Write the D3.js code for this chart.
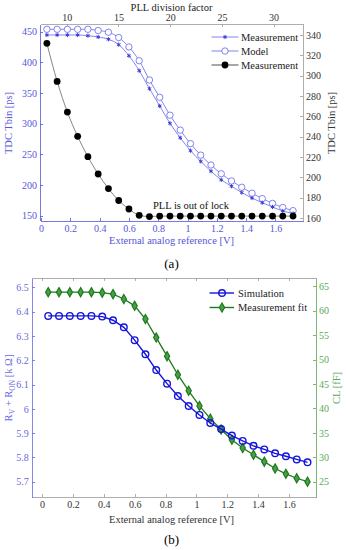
<!DOCTYPE html>
<html>
<head>
<meta charset="utf-8">
<script src="https://cdn.jsdelivr.net/npm/d3@7"></script>
<style>
  body { margin: 0; background: #fff; }
  svg text { font-family: "Liberation Serif", "Times New Roman", serif; }
  .axis path, .axis line { shape-rendering: crispEdges; }
</style>
</head>
<body>
<div id="chart"></div>
<script>
// shared x values: external analog reference [V]
var vref = [0.04, 0.11, 0.18, 0.25, 0.32, 0.39, 0.46, 0.53, 0.60, 0.67, 0.74, 0.81, 0.88,
            0.95, 1.02, 1.09, 1.16, 1.23, 1.30, 1.37, 1.44, 1.51, 1.58, 1.65, 1.72];

// (a) TDC Tbin vs reference
var tbinMeas = [340, 340, 340, 340, 339.3, 338, 335.8, 330.5, 319.6, 304.9, 287.2, 270.2, 253.1,
                238.9, 226.2, 215.7, 206, 197.5, 191.2, 185, 179.6, 175, 170.8, 166.9, 164.4];
var tbinModel = [345.6, 345.6, 345.6, 345.6, 345.6, 344.4, 342.7, 337.5, 328.2, 314.7, 295.7, 278.7, 261.1,
                 246.4, 233.1, 221.8, 212.1, 203.5, 196.4, 190.2, 184.3, 179, 174.3, 170.3, 167.2];
var tbinLock = [431, 369, 319, 279.5, 246.3, 218.1, 194.4, 174.9, 161.1, 150.8, 148.7, 149.5, 149.5,
                149.5, 149.5, 149.5, 149.5, 149.5, 149.5, 149.5, 149.5, 149.5, 149.5, 149.5, 149.5];
var aXTicks = [0, 0.2, 0.4, 0.6, 0.8, 1, 1.2, 1.4, 1.6];
var aLeftTicks = [150, 200, 250, 300, 350, 400, 450];
var aRightTicks = [160, 180, 200, 220, 240, 260, 280, 300, 320, 340];
var pllTicks = [10, 15, 20, 25, 30];

// (b) resistance and capacitance
var rSim = [6.383, 6.383, 6.383, 6.383, 6.383, 6.380, 6.365, 6.336, 6.283, 6.225, 6.160, 6.104, 6.053,
            6.012, 5.975, 5.942, 5.917, 5.890, 5.868, 5.848, 5.833, 5.817, 5.805, 5.792, 5.780];
var clFit = [63.8, 63.8, 63.8, 63.8, 63.8, 63.7, 63.4, 62.4, 61.0, 58.3, 54.5, 50.7, 46.9,
             43.6, 40.5, 37.9, 35.7, 33.6, 31.9, 30.5, 29.1, 27.7, 26.6, 25.7, 25.0];
var bLeftTicks = [5.7, 5.8, 5.9, 6, 6.1, 6.2, 6.3, 6.4, 6.5];
var bRightTicks = [25, 30, 35, 40, 45, 50, 55, 60, 65];

var W = 346, H = 550;
var svg = d3.select("#chart").append("svg").attr("width", W).attr("height", H);

var blueA = "#6464ec", axisBlueA = "#5656d8", grey = "#9a9a9a";

// ---------- panel (a) ----------
var ax = d3.scaleLinear().domain([-0.007, 1.788]).range([40, 303]);
var aTop = d3.scaleLinear().domain([7.42, 32.84]).range([40, 303]);
var ayL = d3.scaleLinear().domain([142, 462.5]).range([220.7, 24]);
var ayR = d3.scaleLinear().domain([157.3, 350.8]).range([220.7, 24]);

function styleAxis(g, lineCol, textCol) {
  g.attr("class", "axis").attr("font-family", null);
  g.select(".domain").attr("stroke", lineCol).attr("stroke-width", 0.8);
  g.selectAll(".tick line").attr("stroke", lineCol).attr("stroke-width", 0.8);
  g.selectAll(".tick text").attr("fill", textCol).attr("font-size", 10);
}

var ga = svg.append("g");
ga.append("g").attr("transform", "translate(0,220.7)")
  .call(d3.axisBottom(ax).tickValues(aXTicks).tickFormat(d3.format("")).tickSize(-3).tickSizeOuter(0).tickPadding(4))
  .call(styleAxis, axisBlueA, axisBlueA);
ga.append("g").attr("transform", "translate(0,24)")
  .call(d3.axisTop(aTop).tickValues(pllTicks).tickSize(-3).tickSizeOuter(0).tickPadding(3))
  .call(styleAxis, grey, "#333");
ga.append("g").attr("transform", "translate(40,0)")
  .call(d3.axisLeft(ayL).tickValues(aLeftTicks).tickSize(-3).tickSizeOuter(0).tickPadding(3))
  .call(styleAxis, axisBlueA, axisBlueA);
ga.append("g").attr("transform", "translate(303,0)")
  .call(d3.axisRight(ayR).tickValues(aRightTicks).tickSize(-3).tickSizeOuter(0).tickPadding(3))
  .call(styleAxis, grey, "#333");

ga.append("text").attr("x", 171.5).attr("y", 10.5).attr("text-anchor", "middle")
  .attr("font-size", 10.5).attr("fill", "#222").text("PLL division factor");
ga.append("text").attr("x", 171.5).attr("y", 244).attr("text-anchor", "middle")
  .attr("font-size", 10.5).attr("fill", axisBlueA).text("External analog reference [V]");
ga.append("text").attr("transform", "translate(12,123) rotate(-90)").attr("text-anchor", "middle")
  .attr("font-size", 10.5).attr("fill", axisBlueA).text("TDC Tbin [ps]");
ga.append("text").attr("transform", "translate(335,123) rotate(-90)").attr("text-anchor", "middle")
  .attr("font-size", 10.5).attr("fill", "#333").text("TDC Tbin [ps]");
ga.append("text").attr("x", 191).attr("y", 208.5).attr("text-anchor", "middle")
  .attr("font-size", 10.5).attr("fill", "#111").text("PLL is out of lock");
ga.append("text").attr("x", 171.5).attr("y", 268).attr("text-anchor", "middle")
  .attr("font-size", 13).attr("fill", "#000").text("(a)");

var lineLock = d3.line().x(function (d, i) { return ax(vref[i]); }).y(function (d) { return ayL(d); })
  .curve(d3.curveMonotoneX);
var lineR = d3.line().x(function (d, i) { return ax(vref[i]); }).y(function (d) { return ayR(d); })
  .curve(d3.curveMonotoneX);

ga.append("path").datum(tbinModel).attr("d", lineR).attr("fill", "none")
  .attr("stroke", blueA).attr("stroke-width", 0.8);
ga.append("path").datum(tbinMeas).attr("d", lineR).attr("fill", "none")
  .attr("stroke", blueA).attr("stroke-width", 0.8);
ga.append("path").datum(tbinLock).attr("d", lineLock).attr("fill", "none")
  .attr("stroke", "#666").attr("stroke-width", 0.8);

ga.selectAll("circle.model").data(tbinModel).enter().append("circle").attr("class", "model")
  .attr("cx", function (d, i) { return ax(vref[i]); }).attr("cy", function (d) { return ayR(d); })
  .attr("r", 3.2).attr("fill", "#fff").attr("stroke", blueA).attr("stroke-width", 0.8);
var star = d3.symbol().type(d3.symbolAsterisk).size(12);
ga.selectAll("path.meas").data(tbinMeas).enter().append("path").attr("class", "meas")
  .attr("transform", function (d, i) { return "translate(" + ax(vref[i]) + "," + ayR(d) + ")"; })
  .attr("d", star).attr("fill", "none").attr("stroke", "#3a3ad8").attr("stroke-width", 1);
ga.selectAll("circle.lock").data(tbinLock).enter().append("circle").attr("class", "lock")
  .attr("cx", function (d, i) { return ax(vref[i]); }).attr("cy", function (d) { return ayL(d); })
  .attr("r", 3.4).attr("fill", "#000");

// legend (a)
var legA = [
  { name: "Measurement", y: 37, kind: "star" },
  { name: "Model", y: 51, kind: "circle" },
  { name: "Measurement", y: 65, kind: "dot" }
];
legA.forEach(function (l) {
  var col = l.kind == "dot" ? "#222" : blueA;
  ga.append("line").attr("x1", 211.5).attr("x2", 238.5).attr("y1", l.y).attr("y2", l.y)
    .attr("stroke", col).attr("stroke-width", 0.8);
  if (l.kind == "star")
    ga.append("path").attr("transform", "translate(225," + l.y + ")").attr("d", star)
      .attr("fill", "none").attr("stroke", "#3a3ad8");
  else if (l.kind == "circle")
    ga.append("circle").attr("cx", 225).attr("cy", l.y).attr("r", 3.2).attr("fill", "#fff")
      .attr("stroke", blueA).attr("stroke-width", 0.8);
  else
    ga.append("circle").attr("cx", 225).attr("cy", l.y).attr("r", 3.4).attr("fill", "#000");
  ga.append("text").attr("x", 241).attr("y", l.y + 3.6).attr("font-size", 10.5).attr("fill", "#222").text(l.name);
});

// ---------- panel (b) ----------
var blueB = "#1414dc", greenB = "#1c7a1c", axisBlueB = "#6a6ae0", axisGreenB = "#5aa85a";
var bx = d3.scaleLinear().domain([-0.067, 1.775]).range([31.7, 316]);
var byL = d3.scaleLinear().domain([5.636, 6.539]).range([497.3, 278]);
var byR = d3.scaleLinear().domain([21.8, 66.7]).range([497.3, 278]);

var gb = svg.append("g");
gb.append("g").attr("transform", "translate(0,497.3)")
  .call(d3.axisBottom(bx).tickValues(aXTicks).tickFormat(d3.format("")).tickSize(-3).tickSizeOuter(0).tickPadding(4))
  .call(styleAxis, grey, "#333");
gb.append("g").attr("transform", "translate(0,278)")
  .call(d3.axisTop(bx).tickValues(aXTicks).tickFormat("").tickSize(-3).tickSizeOuter(0))
  .call(styleAxis, grey, "#333");
gb.append("g").attr("transform", "translate(31.7,0)")
  .call(d3.axisLeft(byL).tickValues(bLeftTicks).tickFormat(d3.format("")).tickSize(-3).tickSizeOuter(0).tickPadding(3))
  .call(styleAxis, axisBlueB, axisBlueB);
gb.append("g").attr("transform", "translate(316,0)")
  .call(d3.axisRight(byR).tickValues(bRightTicks).tickSize(-3).tickSizeOuter(0).tickPadding(3))
  .call(styleAxis, axisGreenB, axisGreenB);

gb.append("text").attr("x", 171.5).attr("y", 522.5).attr("text-anchor", "middle")
  .attr("font-size", 10.5).attr("fill", "#333").text("External analog reference [V]");
gb.append("text").attr("x", 171.5).attr("y", 544).attr("text-anchor", "middle")
  .attr("font-size", 13).attr("fill", "#000").text("(b)");
var rl = gb.append("text").attr("transform", "translate(12,388) rotate(-90)").attr("text-anchor", "middle")
  .attr("font-size", 10.5).attr("fill", axisBlueB);
rl.append("tspan").text("R");
rl.append("tspan").attr("font-size", 7.5).attr("dy", 2.5).text("V");
rl.append("tspan").attr("dy", -2.5).text(" + R");
rl.append("tspan").attr("font-size", 7.5).attr("dy", 2.5).text("ON");
rl.append("tspan").attr("dy", -2.5).text(" [k \u03A9]");
gb.append("text").attr("transform", "translate(340,388) rotate(-90)").attr("text-anchor", "middle")
  .attr("font-size", 10.5).attr("fill", axisGreenB).text("CL [fF]");

var lineSim = d3.line().x(function (d, i) { return bx(vref[i]); }).y(function (d) { return byL(d); });
var lineFit = d3.line().x(function (d, i) { return bx(vref[i]); }).y(function (d) { return byR(d); });
gb.append("path").datum(clFit).attr("d", lineFit).attr("fill", "none")
  .attr("stroke", greenB).attr("stroke-width", 1.3);
var diamond = d3.symbol().type(d3.symbolDiamond).size(24);
gb.selectAll("path.fit").data(clFit).enter().append("path").attr("class", "fit")
  .attr("transform", function (d, i) { return "translate(" + bx(vref[i]) + "," + byR(d) + ")"; })
  .attr("d", diamond).attr("fill", "#4a9f4a").attr("stroke", greenB).attr("stroke-width", 1.2);
gb.append("path").datum(rSim).attr("d", lineSim).attr("fill", "none")
  .attr("stroke", blueB).attr("stroke-width", 1.4);
gb.selectAll("circle.sim").data(rSim).enter().append("circle").attr("class", "sim")
  .attr("cx", function (d, i) { return bx(vref[i]); }).attr("cy", function (d) { return byL(d); })
  .attr("r", 3.3).attr("fill", "none").attr("stroke", blueB).attr("stroke-width", 1.4);

// legend (b)
[{ name: "Simulation", y: 293, col: blueB }, { name: "Measurement fit", y: 307.5, col: greenB }]
  .forEach(function (l, k) {
    gb.append("line").attr("x1", 209.5).attr("x2", 234).attr("y1", l.y).attr("y2", l.y)
      .attr("stroke", l.col).attr("stroke-width", 1.4);
    if (k == 0)
      gb.append("circle").attr("cx", 222).attr("cy", l.y).attr("r", 3.3).attr("fill", "none")
        .attr("stroke", l.col).attr("stroke-width", 1.4);
    else
      gb.append("path").attr("transform", "translate(222," + l.y + ")").attr("d", diamond)
        .attr("fill", "#4a9f4a").attr("stroke", l.col).attr("stroke-width", 1.2);
    gb.append("text").attr("x", 238).attr("y", l.y + 3.6).attr("font-size", 10.5).attr("fill", "#222").text(l.name);
  });
</script>
</body>
</html>
